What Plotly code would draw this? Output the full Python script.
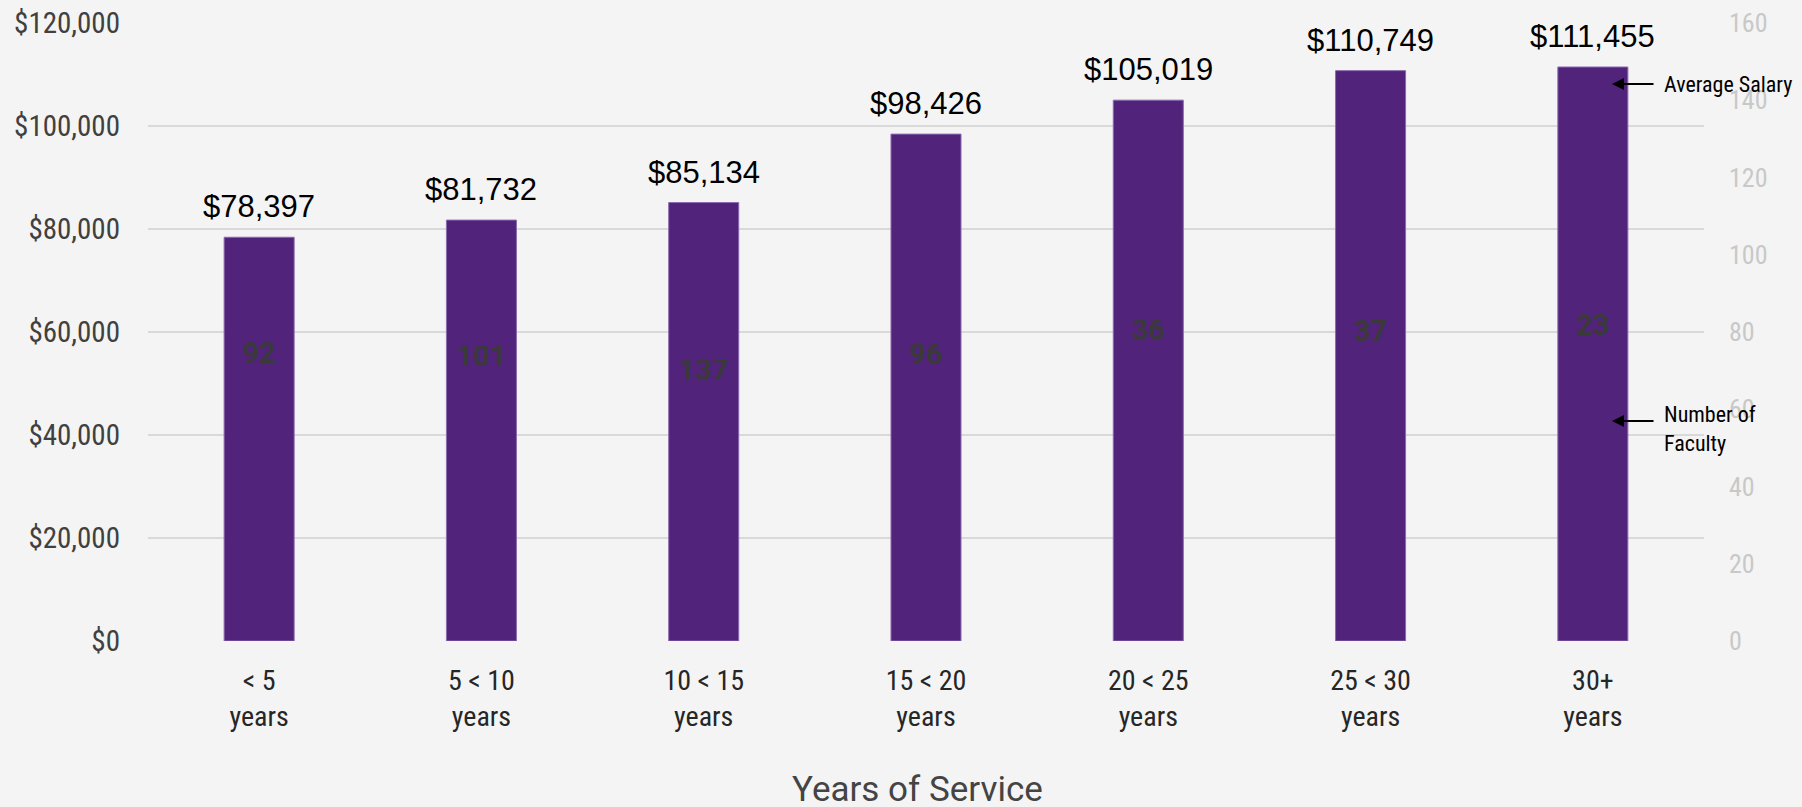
import plotly.graph_objects as go

categories = ["&lt; 5<br>years", "5 &lt; 10<br>years", "10 &lt; 15<br>years", "15 &lt; 20<br>years",
              "20 &lt; 25<br>years", "25 &lt; 30<br>years", "30+<br>years"]
avg_salary = [78397, 81732, 85134, 98426, 105019, 110749, 111455]
num_faculty = [92, 101, 137, 96, 36, 37, 23]
salary_ticks = [0, 20000, 40000, 60000, 80000, 100000, 120000]
salary_ticktext = ["$0", "$20,000", "$40,000", "$60,000", "$80,000", "$100,000", "$120,000"]

NARROW = "Liberation Sans Narrow, Arial Narrow, Roboto Condensed, DejaVu Sans Condensed, sans-serif"
BG = "#f4f4f4"
PURPLE = "#51237a"

PL, PR, PT, PB = 148, 1704, 23, 641
PW, PH = PR - PL, PB - PT

fig = go.Figure()

fig.add_trace(go.Bar(
    x=categories, y=avg_salary, marker=dict(color=PURPLE, line=dict(color="#8a6bb0", width=1)),
    hoverinfo="skip", showlegend=False, yaxis="y",
))

# invisible trace so the secondary axis is drawn
fig.add_trace(go.Scatter(
    x=categories, y=num_faculty, mode="lines", line=dict(width=0, color="rgba(0,0,0,0)"),
    hoverinfo="skip", showlegend=False, yaxis="y2",
))

# faculty count labels
fig.add_trace(go.Scatter(
    x=categories, y=num_faculty, mode="text", text=[str(v) for v in num_faculty],
    textposition="middle center",
    textfont=dict(family="Roboto, Arial, sans-serif", size=29, color="#3a3a3a", weight="bold"),
    hoverinfo="skip", showlegend=False, yaxis="y3",
))

annotations = []
for c, v in zip(categories, avg_salary):
    annotations.append(dict(
        x=c, y=v, xref="x", yref="y", text=f"${v:,}", showarrow=False,
        yanchor="bottom", yshift=11,
        font=dict(family="Liberation Sans, Arial, sans-serif", size=31, color="#000000"),
    ))

# side callouts
annotations.append(dict(
    xref="paper", yref="paper", x=(1612 - PL) / PW, y=1 - (84 - PT) / PH, ax=43, ay=0,
    text="", showarrow=True, arrowhead=2, arrowsize=1.2, arrowwidth=2, arrowcolor="#000",
))
annotations.append(dict(
    xref="paper", yref="paper", x=(1662 - PL) / PW, y=1 - (84 - PT) / PH,
    text="Average Salary", showarrow=False, xanchor="left", yanchor="middle",
    font=dict(family=NARROW, size=22, color="#000"),
))
annotations.append(dict(
    xref="paper", yref="paper", x=(1612 - PL) / PW, y=1 - (421 - PT) / PH, ax=43, ay=0,
    text="", showarrow=True, arrowhead=2, arrowsize=1.2, arrowwidth=2, arrowcolor="#000",
))
annotations.append(dict(
    xref="paper", yref="paper", x=(1662 - PL) / PW, y=1 - (429 - PT) / PH,
    text="Number of<br>Faculty", showarrow=False, xanchor="left", yanchor="middle", align="left",
    font=dict(family=NARROW, size=22, color="#000"),
))
# x-axis title
annotations.append(dict(
    xref="paper", yref="paper", x=(917 - PL) / PW, y=-(789 - PB) / PH,
    text="Years of Service", showarrow=False, xanchor="center", yanchor="middle",
    font=dict(family="Roboto, Arial, sans-serif", size=35, color="#444444"),
))

fig.update_layout(
    width=1802, height=807,
    margin=dict(l=PL, r=1802 - PR, t=PT, b=807 - PB),
    paper_bgcolor=BG, plot_bgcolor=BG,
    bargap=0.685,
    xaxis=dict(
        type="category", showgrid=False, zeroline=False, showline=False, ticks="",
        tickfont=dict(family=NARROW, size=28, color="#262626"),
        ticklabelstandoff=20, automargin=False,
    ),
    yaxis=dict(
        range=[0, 120000], tickvals=salary_ticks, ticktext=salary_ticktext,
        showgrid=True, gridcolor="#d9d9d9", gridwidth=1.5, zeroline=False, showline=False,
        tickfont=dict(family=NARROW, size=29, color="#404040"), ticklabelstandoff=27,
        automargin=False,
    ),
    yaxis2=dict(
        range=[0, 160], dtick=20, overlaying="y", side="right", showgrid=False, zeroline=False,
        tickfont=dict(family=NARROW, size=26, color="#c8c8c8"), ticklabelstandoff=24,
        automargin=False,
    ),
    yaxis3=dict(range=[815, -749], overlaying="y", visible=False),
    annotations=annotations,
)

fig.write_html("out.html")
